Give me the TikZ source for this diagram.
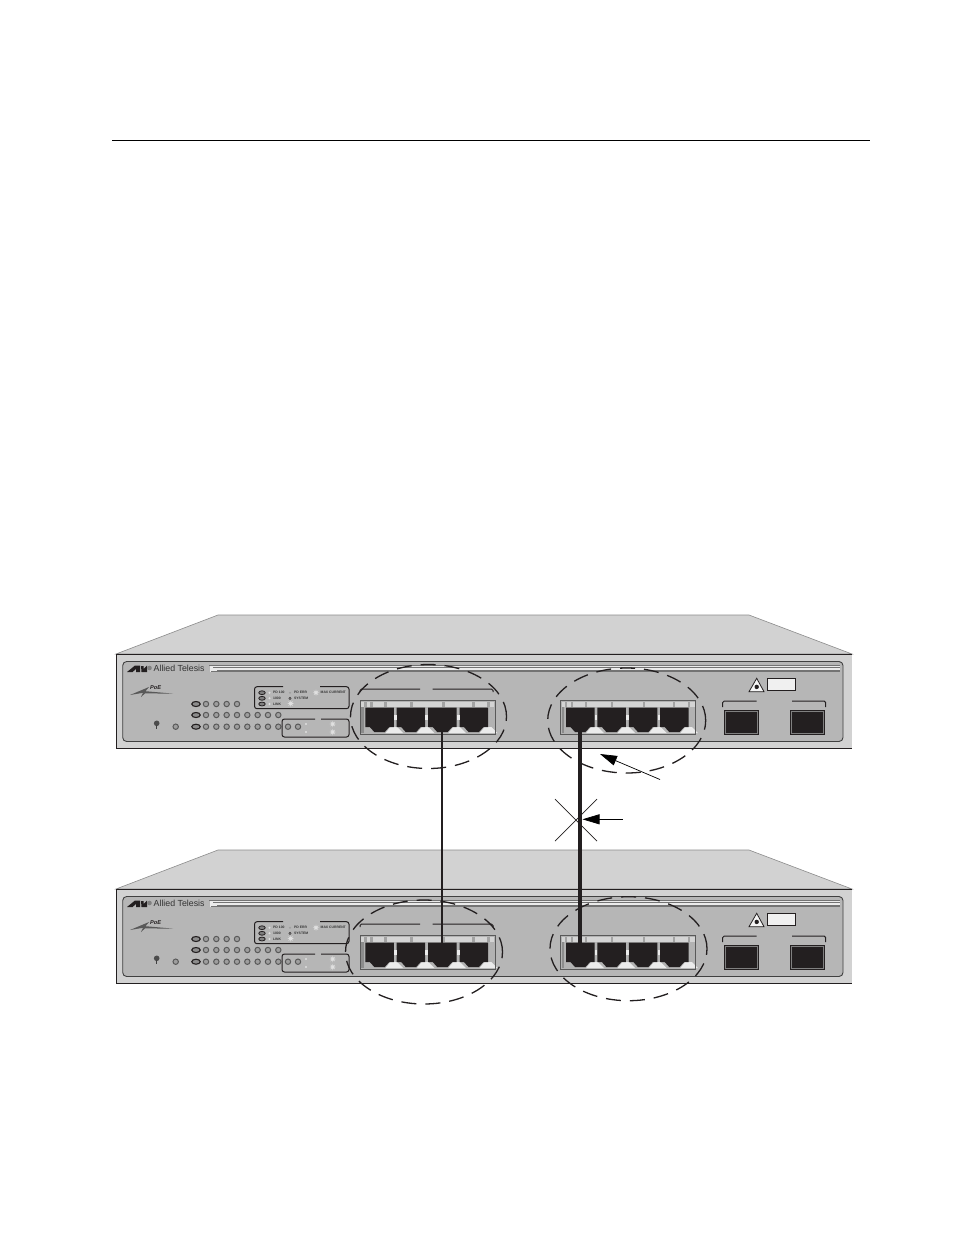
\documentclass[tikz,border=0pt]{standalone}
\usepackage{fontspec}
\setmainfont{Liberation Sans}
\usetikzlibrary{positioning,arrows.meta,shapes.geometric}

\definecolor{facetop}{HTML}{D2D2D2}
\definecolor{panelgray}{HTML}{B6B6B6}
\definecolor{inkdark}{HTML}{231F20}

\begin{document}
\begin{tikzpicture}[
  x=1pt, y=-1pt,
  edge/.style={draw=inkdark, line width=1pt},
  thinline/.style={draw=inkdark, line width=0.7pt},
  led/.style={circle, draw=black!65, fill=black!38, line width=1pt, minimum size=5.4pt, inner sep=0pt},
  ledtag/.style={ellipse, draw=inkdark, fill=black!45, line width=1.1pt, minimum width=8.5pt, minimum height=5pt, inner sep=0pt},
  legendtag/.style={ellipse, draw=inkdark, fill=black!50, line width=0.8pt, minimum width=6.5pt, minimum height=3.8pt, inner sep=0pt},
  tiny/.style={anchor=west, inner sep=0pt, text=black!80, font=\fontsize{3.4}{4}\selectfont\bfseries},
  glint/.style={star, star points=8, star point ratio=2.4, fill=black!12, minimum size=6.5pt, inner sep=0pt},
  speck/.style={circle, fill=black!12, minimum size=2.2pt, inner sep=0pt},
  loopmark/.style={ellipse, draw=inkdark, dash pattern=on 15pt off 9pt, line width=1.3pt, inner sep=0pt},
  callout/.style={draw=black, line width=0.7pt, -{Triangle[length=17pt, width=10pt]}},
  cable/.style={draw=inkdark},
  % one block of four sockets, origin at the top left of the frame
  ports/.pic={
    \fill[black!30] (0,0) rectangle (135,33.3);
    \fill[black!17] (1,1.5) rectangle (134,6.5);
    \fill[black!45] (1,6.5) rectangle (3.5,32);
    \foreach \sx in {4,10,24,50,82,112,127} \fill[black!36] (\sx,1.5) rectangle +(2.5,5);
    \foreach \n/\ox in {1/5.3,2/36.7,3/68.2,4/99.5} {
      \fill[black!8] (\ox+20,32.5) -- (\ox+25,26.5) -- (\ox+32,26.5) -- (\ox+38,32.5) -- cycle;
      \fill[inkdark] (\ox,6.8) -- ++(28.5,0) -- ++(0,19.5) -- ++(-4.5,0) -- ++(-4.5,5) -- ++(-10.5,0) -- ++(-4.5,-5) -- ++(-4.5,0) -- cycle;
      \coordinate (-t\n) at (\ox+14.25,6.8);
      \coordinate (-b\n) at (\ox+14.25,31.3);
    }
    \foreach \ox in {33.9,65.4,96.9} \fill[black!8] (\ox,14.5) rectangle +(2.6,4.5);
    \draw[black!65, line width=1pt] (0,0) rectangle (135,33.3);
  },
  switchbox/.pic={
    \path[fill=facetop, draw=black!45, line width=0.6pt] (116,654) -- (218,615) -- (749,615) -- (852,654) -- cycle;
    \fill[facetop] (116,654) rectangle (852,748);
    \draw[edge] (852,654) -- (116,654) -- (116,748) -- (852,748);
    \draw[fill=panelgray, draw=black!75, line width=0.9pt, rounded corners=4pt] (122.7,661.5) rectangle (843,741.5);
    % stripe beside the logo
    \fill[black!8] (210,665) rectangle (840,671.5);
    \foreach \yy/\xx in {665/209,667.5/213,670/217,671.7/211} \draw[black!55, line width=0.5pt] (\xx,\yy) -- (840,\yy);
    % logo
    \fill[inkdark] (127,672) -- (135,665.5) -- (140,665.5) -- (140,672) -- (136,672) -- (136,669) -- (132.5,672) -- cycle;
    \fill[inkdark] (141,666) -- (143.5,666) -- (143.5,669) -- (147,665.5) -- (147,672) -- (141.5,672) -- cycle;
    \fill[black!50] (149.5,668) circle (2.3pt);
    \node[anchor=west, inner sep=0pt, text=black!80, font=\fontsize{8.8}{10}\selectfont] (-brand) at (153.5,668.5) {Allied Telesis};
    \fill[black!65] (130,695) -- (149,687) -- (145.5,691.2) -- (173,693.6) -- (145,693.4) -- (141,697) -- (143,692.8) -- cycle;
    \node[anchor=west, inner sep=0pt, text=inkdark, font=\fontsize{5.6}{6}\selectfont\bfseries\itshape] (-poe) at (150,688) {PoE};
    % reset button and the lone led
    \fill[black!70] (156.7,723.3) circle (2.8pt);
    \draw[black!75, line width=0.6pt] (156.7,725) -- (156.7,729.3);
    \node[led] (-sys) at (175.7,726.7) {};
    % led rows
    \node[ledtag] (-rowa) at (196,704) {};
    \node[ledtag] (-rowb) at (196,715) {};
    \node[ledtag] (-rowc) at (196,726.7) {};
    \foreach \n in {0,...,3} \node[led] (-ledA\n) at (206+10.33*\n,704) {};
    \foreach \n in {0,...,7} \node[led] (-ledB\n) at (206+10.33*\n,715) {};
    \foreach \n in {0,...,7} \node[led] (-ledC\n) at (206+10.33*\n,726.7) {};
    \node[led] (-ledC8) at (288,726.7) {};
    \node[led] (-ledC9) at (298,726.7) {};
    % legend box
    \draw[edge, rounded corners=2.5pt] (283,686.7) -- (254.5,686.7) -- (254.5,708.7) -- (349,708.7) -- (349,686.7) -- (320,686.7);
    \foreach \n/\yy in {1/692.7,2/698.3,3/704} {
      \node[legendtag] (-keytag\n) at (262,\yy) {};
      \node[speck] (-keydot\n) at (269.5,\yy) {};
    }
    \node[tiny] (-keya) at (273,692.7) {PD 100};
    \node[tiny] (-keyb) at (273,698.3) {1000};
    \node[tiny] (-keyc) at (273,704) {LINK};
    \node[speck, fill=black!38] (-keyd) at (290,692.7) {};
    \node[circle, draw=inkdark, line width=0.4pt, minimum size=2.4pt, inner sep=0pt] (-keye) at (290,698.3) {};
    \node[tiny] (-keyf) at (294,692.7) {PD ERR};
    \node[tiny] (-keyg) at (294,698.3) {SYSTEM};
    \node[glint] (-keyh) at (316,692.7) {};
    \node[glint] (-keyi) at (290.7,703.5) {};
    \node[tiny] (-keyj) at (320.5,692.7) {MAX CURRENT};
    % lower box
    \draw[edge, rounded corners=2.5pt] (315,719) -- (282,719) -- (282,737) -- (349,737) -- (349,719) -- (321,719);
    \node[speck] (-spa) at (306,724) {};
    \node[speck] (-spb) at (306,732) {};
    \node[glint] (-spc) at (332.7,724) {};
    \node[glint] (-spd) at (332.7,732) {};
    % sockets
    \pic (-a) at (360,700.7) {ports};
    \pic (-b) at (560.7,700.7) {ports};
    \draw[edge, rounded corners=1.5pt] (360,692) -- (360,689) -- (420,689);
    \draw[edge, rounded corners=1.5pt] (432.7,689) -- (493,689) -- (493,692);
    % laser warning and label
    \draw[fill=black!4, draw=inkdark, line width=0.8pt] (756.7,678.3) -- (764,691.7) -- (749,691.7) -- cycle;
    \fill[inkdark] (756.7,686.9) circle (2.2pt);
    \draw[fill=black!6, draw=inkdark, line width=1.3pt] (767.8,678.4) rectangle (795.2,690.6);
    % sfp slots
    \draw[edge, rounded corners=1.5pt] (722.7,707) -- (722.7,701) -- (756.7,701);
    \draw[edge, rounded corners=1.5pt] (792,701) -- (825.7,701) -- (825.7,707);
    \foreach \xx in {724.5,790.3} {
      \draw[fill=inkdark, draw=inkdark, line width=1.2pt] (\xx,710.3) rectangle +(34,23.8);
      \draw[black!50, line width=0.6pt] (\xx+1.2,711.4) rectangle +(31.6,21.6);
    }
  }
]
\useasboundingbox (0,0) rectangle (954,1235);
\fill[white] (0,0) rectangle (954,1235);
\draw[black, line width=1pt] (112,140.5) -- (870,140.5);

\pic (top) at (0,0) {switchbox};
\pic (bot) at (0,235) {switchbox};

% dashed rings round the port blocks
\node[loopmark, minimum width=156pt, minimum height=104pt] (ringa) at (428.5,716.5) {};
\node[loopmark, minimum width=158pt, minimum height=105pt] (ringb) at (626.7,720.5) {};
\node[loopmark, minimum width=157pt, minimum height=104pt] (ringc) at (424,952) {};
\node[loopmark, minimum width=157pt, minimum height=104pt] (ringd) at (628.5,948.7) {};

% cables
\draw[cable, line width=2pt] (top-a-b3) -- (bot-a-t3);
\draw[cable, line width=3.7pt] (top-b-b1) -- (bot-b-t1);

% crossed out link
\coordinate (crossa) at (555,799);
\coordinate (crossb) at (597,841);
\coordinate (crossc) at (555,841);
\coordinate (crossd) at (597,799);
\draw[thinline] (crossa) -- (crossb);
\draw[thinline] (crossc) -- (crossd);

% callouts
\coordinate (taila) at (660,779.5);
\coordinate (heada) at (600,754);
\coordinate (tailb) at (622.7,819.3);
\coordinate (headb) at (582.5,819.3);
\draw[callout] (taila) -- (heada);
\draw[callout] (tailb) -- (headb);
\end{tikzpicture}
\end{document}
